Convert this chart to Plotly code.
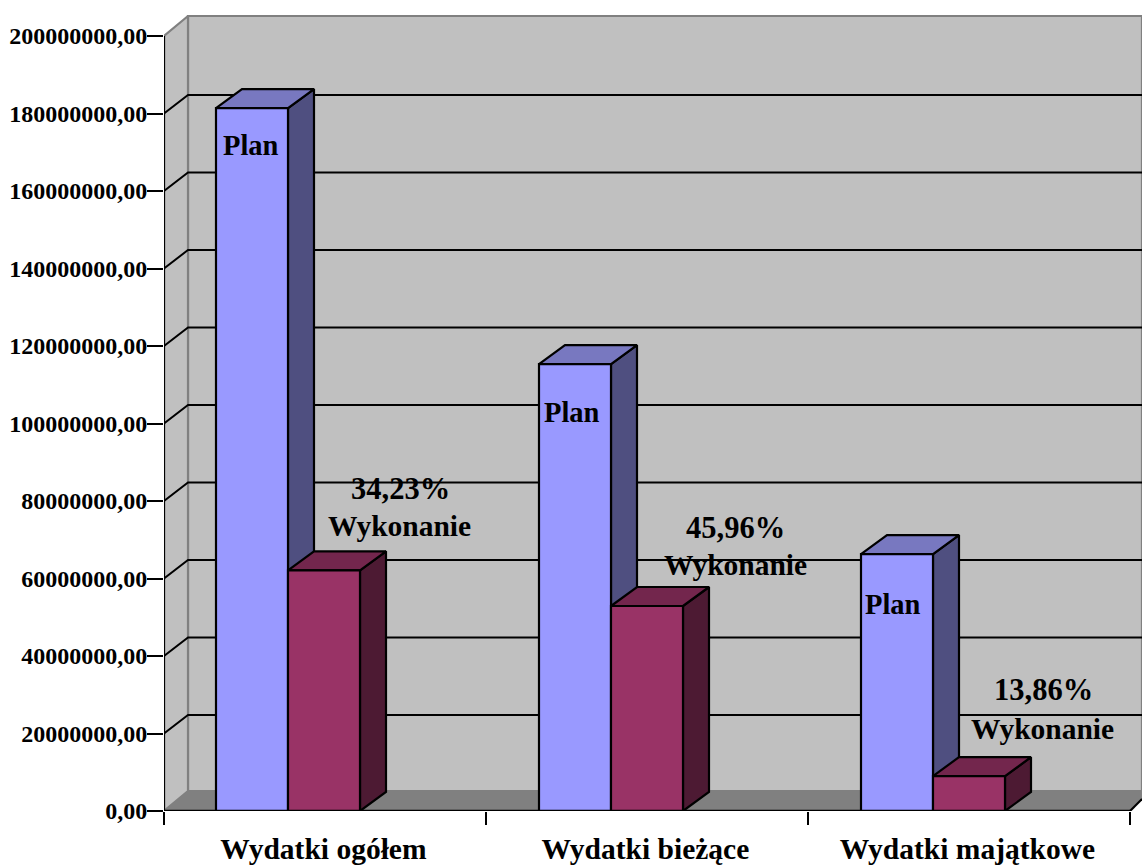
import plotly.graph_objects as go

categories = ["Wydatki ogółem", "Wydatki bieżące", "Wydatki majątkowe"]
plan = [181400000, 115300000, 66300000]
wykonanie = [62100000, 52900000, 9000000]
percent_labels = ["34,23%", "45,96%", "13,86%"]
tick_values = [i * 20000000 for i in range(11)]
tick_labels = [f"{v},00" for v in tick_values]

# Layout (pixels of the reference)
W, H = 1142, 865
X0, Y0, CAT_PX, Y_PX = 164, 811, 322, 77.5 / 20000000
sx = lambda px: (px - X0) / CAT_PX
dv = lambda px: px / Y_PX
YMAX = dv(Y0)
XMAX = sx(W)
WALL_DX, WALL_DV, GRID_DV = 24 / CAT_PX, dv(20), dv(18.5)
BAR_DX, BAR_DV = 26 / CAT_PX, dv(19)
BAR_OFFS, BAR_W = [52 / CAT_PX, 53 / CAT_PX, 53 / CAT_PX], 72 / CAT_PX
SERIF = "Liberation Serif"

fig = go.Figure()


def poly(xs, ys, fill, line="black", width=2.2):
    fig.add_trace(go.Scatter(x=xs, y=ys, mode="lines", fill="toself", fillcolor=fill,
                             line=dict(color=line, width=width), hoverinfo="skip",
                             showlegend=False, cliponaxis=False))


def seg(xs, ys, color, width=2.2):
    fig.add_trace(go.Scatter(x=xs, y=ys, mode="lines", line=dict(color=color, width=width),
                             hoverinfo="skip", showlegend=False, cliponaxis=False,
                             connectgaps=False))


top = tick_values[-1]
n = len(categories)
# Walls and floor
poly([WALL_DX, XMAX, XMAX, WALL_DX, WALL_DX],
     [WALL_DV, WALL_DV, top + WALL_DV, top + WALL_DV, WALL_DV], "#C0C0C0", "#808080")
poly([0, WALL_DX, WALL_DX, 0, 0], [0, WALL_DV, top + WALL_DV, top, 0], "#C0C0C0", "#808080")
poly([0, n, XMAX, XMAX, WALL_DX, 0], [0, 0, WALL_DV * 0.6, WALL_DV, WALL_DV, 0], "#808080", "#808080", 1)

# Gridlines on the walls
gx, gy = [], []
for v in tick_values[1:-1]:
    gx += [0, WALL_DX, XMAX, None]
    gy += [v, v + GRID_DV, v + GRID_DV, None]
seg(gx, gy, "black", 2)
seg([n, XMAX], [0, WALL_DV * 0.6], "black")


def cuboid(x0, value, front, topc, side):
    x1 = x0 + BAR_W
    poly([x1, x1 + BAR_DX, x1 + BAR_DX, x1, x1],
         [0, BAR_DV, value + BAR_DV, value, 0], side)
    poly([x0, x0 + BAR_DX, x1 + BAR_DX, x1, x0],
         [value, value + BAR_DV, value + BAR_DV, value, value], topc)
    poly([x0, x1, x1, x0, x0], [0, 0, value, value, 0], front)


for i in range(n):
    x0 = i + BAR_OFFS[i]
    cuboid(x0, plan[i], "#9999FF", "#7878C0", "#4F4F80")
    cuboid(x0 + BAR_W, wykonanie[i], "#993366", "#73264D", "#4D1A33")

# Front axis lines
seg([0, 0], [0, top], "black")
seg([0, n], [0, 0], "black", 2.5)

# Text labels
plan_pos = [(251, 145), (572, 412), (893, 604)]
pct_pos = [(400, 489), (735, 528), (1043, 690)]
wyk_pos = [(399, 526), (735, 565), (1042, 729)]


def label(text, pos, size):
    fig.add_annotation(x=sx(pos[0]), y=dv(Y0 - pos[1]), text=text, showarrow=False,
                       xanchor="center", yanchor="middle",
                       font=dict(family=SERIF, size=size, color="black", weight="bold"))


for i in range(n):
    label("Plan", plan_pos[i], 28.5)
    label(percent_labels[i], pct_pos[i], 30.5)
    label("Wykonanie", wyk_pos[i], 29.5)

fig.update_layout(
    width=W, height=H, margin=dict(l=X0, r=0, t=0, b=H - Y0),
    paper_bgcolor="white", plot_bgcolor="white", showlegend=False,
    xaxis=dict(range=[0, XMAX], showgrid=False, zeroline=False, showline=False, automargin=False,
               tickmode="array", tickvals=[i + 0.495 for i in range(n)], ticktext=categories,
               ticks="", ticklabelstandoff=17,
               tickfont=dict(family=SERIF, size=29.5, color="black", weight="bold"),
               minor=dict(tickmode="array", tickvals=list(range(n + 1)), ticks="outside",
                          ticklen=13, tickwidth=2, tickcolor="black", showgrid=False)),
    yaxis=dict(range=[0, YMAX], showgrid=False, zeroline=False, showline=False, automargin=False,
               tickmode="array", tickvals=tick_values, ticktext=tick_labels,
               ticks="outside", ticklen=16, tickwidth=2.2, tickcolor="black", ticklabelstandoff=-5,
               tickfont=dict(family=SERIF, size=24, color="black", weight="bold")),
)

fig.write_html("out.html", config={"displayModeBar": False},
               post_script="document.body.style.margin='0';document.body.style.overflow='hidden';")
